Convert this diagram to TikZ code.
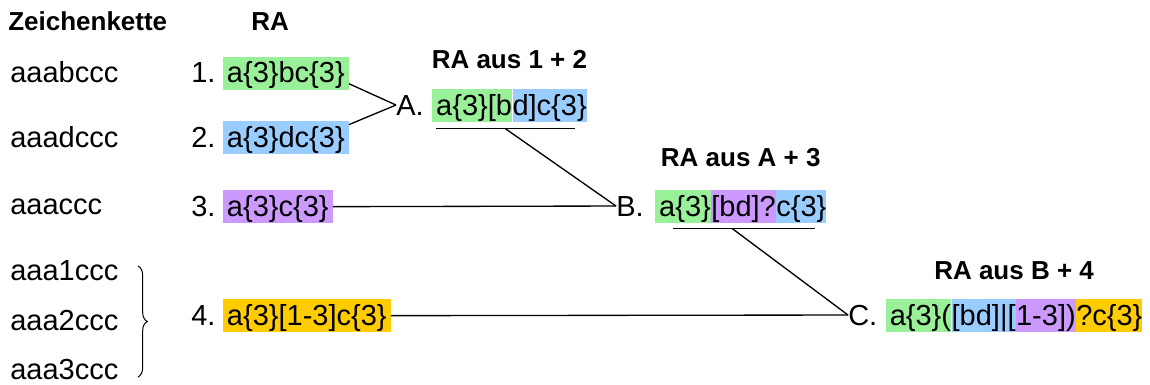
\documentclass[tikz,border=0pt]{standalone}
\usepackage{fontspec}
\setmainfont{Liberation Sans}
\usepackage{tikz}
\usetikzlibrary{positioning, calc, decorations.pathreplacing}
\definecolor{raGreen}{RGB}{153,240,153}
\definecolor{raBlue}{RGB}{153,204,255}
\definecolor{raPurple}{RGB}{204,153,255}
\definecolor{raOrange}{RGB}{255,204,0}
\newcommand{\pad}{\hspace{3pt}}

\begin{document}
\begin{tikzpicture}[
  x=0.75pt, y=-0.75pt,
  txt/.style={inner sep=0pt, font=\fontsize{21.75}{26}\selectfont, anchor=base west},
  head/.style={inner sep=0pt, font=\fontsize{19.5}{23}\selectfont\bfseries},
  seg/.style={txt, inner xsep=0pt, inner ysep=0pt, text height=19.6pt, text depth=5.6pt},
  single/.style={seg, inner xsep=3pt},
  conn/.style={draw, line width=1pt}
]
  \useasboundingbox (0,0) rectangle (1150,385);

  % Column headers
  \node[head, anchor=base west] (hStr) at (8,31) {Zeichenkette};
  \node[head, anchor=base west] (hRA) at (251,31) {RA};

  % Strings
  \node[txt] (s1) at (10,83) {aaabccc};
  \node[txt] (s2) at (10,147) {aaadccc};
  \node[txt] (s3) at (10,214) {aaaccc};
  \node[txt] (s4) at (10,280) {aaa1ccc};
  \node[txt] (s5) at (10,330) {aaa2ccc};
  \node[txt] (s6) at (10,379) {aaa3ccc};
  \draw[line width=0.75pt, decorate, decoration={brace, amplitude=7pt}] (138,266) -- (138,377);

  % Single expressions
  \node[txt] (n1) at (191,83) {1.};
  \node[single, fill=raGreen] (r1) at ($(n1.base east)+(7,0)$) {a\{3\}bc\{3\}};
  \node[txt] (n2) at (191,147) {2.};
  \node[single, fill=raBlue] (r2) at ($(n2.base east)+(7,0)$) {a\{3\}dc\{3\}};
  \node[txt] (n3) at (191,216) {3.};
  \node[single, fill=raPurple] (r3) at ($(n3.base east)+(7,0)$) {a\{3\}c\{3\}};
  \node[txt] (n4) at (191,325) {4.};
  \node[single, fill=raOrange] (r4) at ($(n4.base east)+(7,0)$) {a\{3\}[1-3]c\{3\}};

  % Merge A
  \node[txt] (lA) at (396,115) {A.};
  \node[seg, fill=raGreen] (a1) at ($(lA.base east)+(8,0)$) {\pad a\{3\}[b};
  \node[seg, fill=raBlue] (a2) at (a1.base east) {d]c\{3\}\pad};
  \node[head, anchor=base] (hA) at ($(a1.west)!0.5!(a2.east)+(0,-37)$) {RA aus 1 + 2};
  \coordinate (uA1) at ($(a1.south west)+(4,6)$);
  \coordinate (uA2) at ($(a2.south east)+(-12,6)$);
  \coordinate (uA) at ($(uA1)!0.5!(uA2)$);
  \draw[conn] (uA1) -- (uA2);

  % Merge B
  \node[txt] (lB) at (616,216) {B.};
  \node[seg, fill=raGreen] (b1) at ($(lB.base east)+(11,0)$) {\pad a\{3\}};
  \node[seg, fill=raPurple] (b2) at (b1.base east) {[bd]?};
  \node[seg, fill=raBlue] (b3) at (b2.base east) {c\{3\}\pad};
  \node[head, anchor=base] (hB) at ($(b1.west)!0.5!(b3.east)+(0,-40)$) {RA aus A + 3};
  \coordinate (uB1) at ($(b1.south west)+(18,5)$);
  \coordinate (uB2) at ($(b3.south east)+(-12,5)$);
  \coordinate (uB) at ($(uB1)!0.42!(uB2)$);
  \draw[conn] (uB1) -- (uB2);

  % Merge C
  \node[txt] (lC) at (848,325) {C.};
  \node[seg, fill=raGreen] (c1) at ($(lC.base east)+(8,0)$) {\pad a\{3\}(};
  \node[seg, fill=raBlue] (c2) at (c1.base east) {[bd]|[};
  \node[seg, fill=raPurple] (c3) at (c2.base east) {1-3])};
  \node[seg, fill=raOrange] (c4) at (c3.base east) {?c\{3\}\pad};
  \node[head, anchor=base] (hC) at ($(c1.west)!0.5!(c4.east)+(0,-36)$) {RA aus B + 4};

  % Connectors
  \draw[conn] ($(r1.south east)+(0,-7)$) -- (lA.west);
  \draw[conn] ($(r2.north east)+(0,4)$) -- (lA.west);
  \draw[conn] (uA) -- (lB.west);
  \draw[conn] (r3.east) -- (lB.west);
  \draw[conn] (uB) -- (lC.west);
  \draw[conn] (r4.east) -- (lC.west);
\end{tikzpicture}
\end{document}
